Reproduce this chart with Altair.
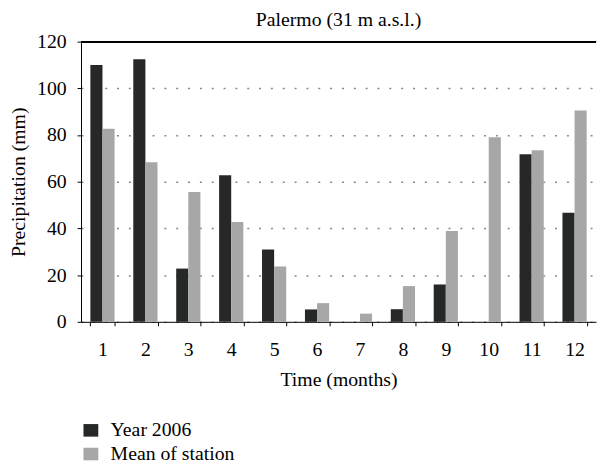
import altair as alt
import pandas as pd

months = [1, 2, 3, 4, 5, 6, 7, 8, 9, 10, 11, 12]
year_2006 = [110.0, 112.5, 22.8, 62.8, 31.0, 5.3, 0.0, 5.4, 16.0, 0.0, 71.8, 46.7]
mean_station = [82.7, 68.3, 55.6, 42.8, 23.7, 8.0, 3.5, 15.3, 38.9, 79.0, 73.5, 90.5]
series_names = ["Year 2006", "Mean of station"]
series_colors = ["#262827", "#a7a7a7"]
y_ticks = [0, 20, 40, 60, 80, 100, 120]

rows = []
for m, a, b in zip(months, year_2006, mean_station):
    rows.append({"month": m, "series": series_names[0], "value": a})
    rows.append({"month": m, "series": series_names[1], "value": b})
df = pd.DataFrame(rows)

FONT = "Liberation Serif"
FS = 20

bars = alt.Chart(df).mark_bar().encode(
    x=alt.X(
        "month:O",
        scale=alt.Scale(paddingInner=0.436, paddingOuter=0.218),
        axis=alt.Axis(
            title="Time (months)",
            labelAngle=0,
            tickBand="extent",
            tickSize=4,
            tickColor="black",
            domainColor="black",
            labelPadding=14,
            titlePadding=11,
            grid=False,
        ),
    ),
    xOffset=alt.XOffset("series:N", sort=series_names),
    y=alt.Y(
        "value:Q",
        scale=alt.Scale(domain=[0, 120], nice=False),
        axis=alt.Axis(
            title="Precipitation (mm)",
            values=y_ticks,
            tickSize=4,
            tickColor="black",
            domainColor="black",
            labelPadding=11,
            titlePadding=8,
            grid=True,
            gridDash=[2, 10],
            gridColor="#888888",
            gridWidth=1.5,
        ),
    ),
    color=alt.Color(
        "series:N",
        sort=series_names,
        scale=alt.Scale(domain=series_names, range=series_colors),
        legend=alt.Legend(
            title=None,
            orient="none",
            legendX=0,
            legendY=384,
            direction="vertical",
            symbolType="M-1,-0.85H1V0.85H-1Z",
            symbolSize=225,
            symbolStrokeWidth=0,
            labelFontSize=FS,
            labelFont=FONT,
            labelColor="black",
            labelOffset=10,
            rowPadding=4,
            padding=0,
        ),
    ),
)

top_rule = alt.Chart(df).mark_rule(color="black", strokeWidth=1.2).encode(
    y=alt.datum(120)
)

chart = (
    alt.layer(bars, top_rule)
    .properties(
        width=522,
        height=284,
        title=alt.TitleParams(
            "Palermo (31 m a.s.l.)",
            font=FONT,
            fontSize=FS,
            fontWeight="normal",
            color="black",
            anchor="middle",
            frame="group",
            offset=2,
        ),
        autosize=alt.AutoSizeParams(type="none"),
        padding={"left": 74, "top": 31, "right": 1, "bottom": 140},
    )
    .configure_view(stroke=None)
    .configure_axis(
        labelFont=FONT,
        titleFont=FONT,
        labelFontSize=FS,
        titleFontSize=FS,
        titleFontWeight="normal",
        labelColor="black",
        titleColor="black",
    )
)

chart.save("out.html", embed_options={"renderer": "svg", "actions": False})
